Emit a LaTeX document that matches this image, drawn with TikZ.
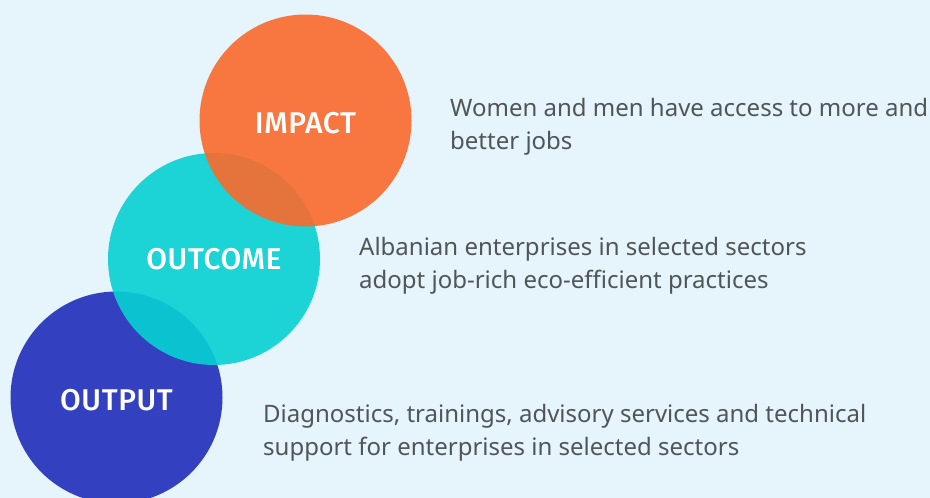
\documentclass[tikz,border=0pt]{standalone}
\usepackage{fontspec}
\setmainfont{Noto Sans}
\newfontfamily\labelfont{Fira Sans}[UprightFont=* Medium, LetterSpace=2]
\definecolor{bgblue}{HTML}{E6F4FB}
\definecolor{impactorange}{HTML}{FB6A2C}
\definecolor{outcomecyan}{HTML}{07D1D3}
\definecolor{outputblue}{HTML}{3341C0}
\definecolor{bodygray}{HTML}{505558}
\tikzset{
  stage/.style={circle, minimum size=212pt, inner sep=0pt, fill opacity=0.9, text opacity=1},
  stagelabel/.style={text=white, font=\labelfont\fontsize{30}{34}\selectfont},
  desc/.style={anchor=west, align=left, text=bodygray, inner sep=0pt,
    font=\fontsize{24}{33}\selectfont},
}
\begin{document}
\begin{tikzpicture}[x=1pt,y=-1pt]
  \fill[bgblue] (0,0) rectangle (930,498);
  \useasboundingbox (0,0) rectangle (930,498);
  % the three stacked stages, drawn bottom-up so each overlaps the previous
  \node[stage, fill=outputblue, fill opacity=1] (output) at (116.5,397.5) {};
  \node[stage, fill=outcomecyan] (outcome) at (214,259) {};
  \node[stage, fill=impactorange] (impact) at (305.5,120.5) {};
  \node[stagelabel] at ([yshift=-2.5pt]output) {OUTPUT};
  \node[stagelabel] at (outcome) {OUTCOME};
  \node[stagelabel] at ([yshift=-2.5pt]impact) {IMPACT};
  % descriptions
  \node[desc] (impactdesc) at (450,127) {Women and men have access to more and\\better jobs};
  \node[desc] (outcomedesc) at (359,266) {Albanian enterprises in selected sectors\\adopt job-rich eco-efficient practices};
  \node[desc] (outputdesc) at (263,433) {Diagnostics, trainings, advisory services and technical\\support for enterprises in selected sectors};
\end{tikzpicture}
\end{document}
